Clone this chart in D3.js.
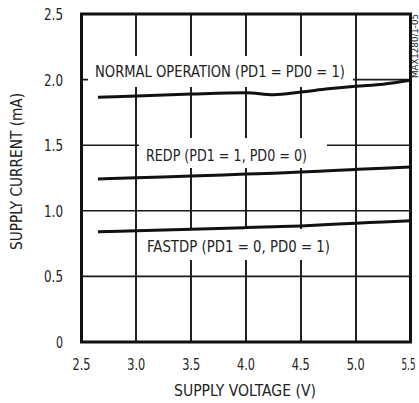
<!DOCTYPE html>
<html>
<head>
<meta charset="utf-8">
<script src="https://cdn.jsdelivr.net/npm/d3@7/dist/d3.min.js"></script>
<style>
  body { margin: 0; background: #fff; }
  text { font-family: "Liberation Sans Narrow", "DejaVu Sans Condensed", sans-serif; fill: #222; }
</style>
</head>
<body>
<div id="chart"></div>
<script>
var svgWidth = 419;
var svgHeight = 403;

// data
var voltage = [2.65, 3.0, 3.5, 4.0, 4.25, 4.5, 4.75, 5.0, 5.25, 5.5];
var normalCurrent = [1.865, 1.875, 1.89, 1.9, 1.885, 1.905, 1.93, 1.95, 1.965, 1.995];
var redpCurrent = [1.242, 1.252, 1.265, 1.28, 1.287, 1.295, 1.305, 1.315, 1.325, 1.334];
var fastdpCurrent = [0.84, 0.848, 0.86, 0.872, 0.878, 0.885, 0.895, 0.905, 0.915, 0.925];

var xTicks = [2.5, 3.0, 3.5, 4.0, 4.5, 5.0, 5.5];
var yTicks = [0, 0.5, 1.0, 1.5, 2.0, 2.5];
var curveLabels = ["NORMAL OPERATION (PD1 = PD0 = 1)", "REDP (PD1 = 1, PD0 = 0)", "FASTDP (PD1 = 0, PD0 = 1)"];

var svg = d3.select("#chart").append("svg").attr("width", svgWidth).attr("height", svgHeight);

var x = d3.scaleLinear().domain([2.5, 5.5]).range([81.5, 410.5]);
var y = d3.scaleLinear().domain([0, 2.5]).range([342, 14]);

// grid: vertical lines as solid pixel columns, horizontal as one path
var vPath = "";
xTicks.slice(1, -1).forEach(function(d) {
    var c = Math.round(x(d));
    vPath += "M" + (c - 1) + "," + y(2.5) + "H" + (c + 1) + "V" + y(0) + "H" + (c - 1) + "Z";
});
svg.append("path")
    .attr("d", vPath)
    .attr("fill", "#222")
    .attr("shape-rendering", "crispEdges");

var hPath = "";
yTicks.slice(1, -1).forEach(function(d) {
    hPath += "M" + x(2.5) + "," + y(d) + "H" + x(5.5);
});
svg.append("path")
    .attr("d", hPath)
    .attr("fill", "none")
    .attr("stroke", "#1a1a1a")
    .attr("stroke-width", 1.6);

// white boxes behind the curve labels (they break the grid)
var labelBoxes = [
    {x0: 88, x1: 353, y0: 56, y1: 87, tx: 95, ty: 77, w: 250},
    {x0: 139, x1: 327, y0: 138, y1: 168, tx: 146, ty: 161, w: 161},
    {x0: 139, x1: 345, y0: 229, y1: 260, tx: 147, ty: 252, w: 183}
];

labelBoxes.forEach(function(b, i) {
    svg.append("path")
        .attr("d", "M" + b.x0 + "," + b.y0 + "H" + b.x1 + "V" + b.y1 + "H" + b.x0 + "Z")
        .attr("fill", "#fff");
    svg.append("text")
        .attr("x", b.tx).attr("y", b.ty)
        .attr("font-size", "16.5px")
        .attr("textLength", b.w)
        .attr("lengthAdjust", "spacingAndGlyphs")
        .text(curveLabels[i]);
});

// curves
var line = d3.line()
    .x(d => x(d[0]))
    .y(d => y(d[1]))
    .curve(d3.curveMonotoneX);

[normalCurrent, redpCurrent, fastdpCurrent].forEach(function(series) {
    svg.append("path")
        .datum(voltage.map((v, i) => [v, series[i]]))
        .attr("d", line)
        .attr("fill", "none")
        .attr("stroke", "#111")
        .attr("stroke-width", 3);
});

// frame
svg.append("rect")
    .attr("x", x(2.5)).attr("y", y(2.5))
    .attr("width", x(5.5) - x(2.5)).attr("height", y(0) - y(2.5))
    .attr("fill", "none")
    .attr("stroke", "#111")
    .attr("stroke-width", 3);

// tick labels
xTicks.forEach(function(d) {
    svg.append("text")
        .attr("x", x(d) - 9).attr("y", 370)
        .attr("font-size", "16.5px")
        .attr("textLength", d === 5.5 ? 14 : 18)
        .attr("lengthAdjust", "spacingAndGlyphs")
        .text(d.toFixed(1));
});

yTicks.forEach(function(d) {
    svg.append("text")
        .attr("x", d === 0 ? 56 : 44).attr("y", y(d) + 6)
        .attr("font-size", "16.5px")
        .attr("textLength", d === 0 ? 7 : 19)
        .attr("lengthAdjust", "spacingAndGlyphs")
        .text(d === 0 ? "0" : d.toFixed(1));
});

// axis titles
svg.append("text")
    .attr("x", 174).attr("y", 396)
    .attr("font-size", "16.5px")
    .attr("textLength", 142)
    .attr("lengthAdjust", "spacingAndGlyphs")
    .text("SUPPLY VOLTAGE (V)");

svg.append("text")
    .attr("transform", "translate(22, 250) rotate(-90)")
    .attr("font-size", "16.5px")
    .attr("textLength", 157)
    .attr("lengthAdjust", "spacingAndGlyphs")
    .text("SUPPLY CURRENT (mA)");

// part number
svg.append("text")
    .attr("transform", "translate(418, 78) rotate(-90)")
    .attr("font-size", "9px")
    .attr("textLength", 64)
    .attr("lengthAdjust", "spacingAndGlyphs")
    .text("MAX1280/1-05");
</script>
</body>
</html>
